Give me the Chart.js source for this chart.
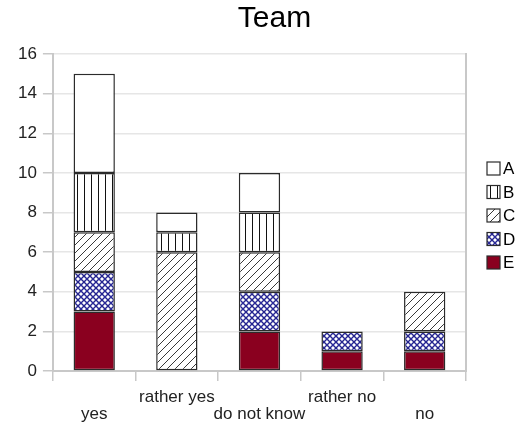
<!DOCTYPE html>
<html>
<head>
<meta charset="utf-8">
<script src="https://cdn.jsdelivr.net/npm/chart.js@4/dist/chart.umd.min.js"></script>
<style>
  html, body { margin: 0; padding: 0; background: #fff; }
  #wrap { width: 524px; height: 435px; }
</style>
</head>
<body>
<div id="wrap"><canvas id="c" width="524" height="435"></canvas></div>
<script>
// Answer categories along the x axis
const categories = ['yes', 'rather yes', 'do not know', 'rather no', 'no'];

// Counts per answer for each group (stacked bottom to top: E, D, C, B, A)
const seriesE = [3, 0, 2, 1, 1];
const seriesD = [2, 0, 2, 1, 1];
const seriesC = [2, 6, 2, 0, 2];
const seriesB = [3, 1, 2, 0, 0];
const seriesA = [5, 1, 2, 0, 0];

// Y axis tick values
const yTicks = [0, 2, 4, 6, 8, 10, 12, 14, 16];

const chartTitle = 'Team';

// Fill patterns
function makeTile(w, h, draw) {
  const t = document.createElement('canvas');
  t.width = w; t.height = h;
  const g = t.getContext('2d');
  g.fillStyle = '#fff';
  g.fillRect(0, 0, w, h);
  draw(g, w, h);
  return document.getElementById('c').getContext('2d').createPattern(t, 'repeat');
}

const patVertical = makeTile(7, 7, (g, w, h) => {
  g.fillStyle = '#111';
  g.fillRect(0, 0, 1, h);
});

const patDiagonal = makeTile(8, 8, (g, w, h) => {
  g.strokeStyle = '#222';
  g.lineWidth = 0.9;
  g.beginPath();
  g.moveTo(-1, h + 1); g.lineTo(w + 1, -1);
  g.moveTo(-1 - w, h + 1); g.lineTo(1, -1);
  g.moveTo(w - 1, h + 1); g.lineTo(2 * w + 1, -1);
  g.stroke();
});

const patCross = makeTile(6, 6, (g, w, h) => {
  g.strokeStyle = '#23238f';
  g.lineWidth = 1.4;
  g.beginPath();
  g.moveTo(0, 0); g.lineTo(w, h);
  g.moveTo(w, 0); g.lineTo(0, h);
  g.stroke();
  g.fillStyle = '#2a2a9a';
  g.fillRect(w / 2 - 1, h / 2 - 1, 2, 2);
});

const FONT = "'Liberation Sans', Arial, sans-serif";
const borderDark = '#2b2b2b';
const axisGray = '#c8c8c8';

function ds(label, data, bg) {
  return {
    label, data,
    backgroundColor: bg,
    borderColor: borderDark,
    borderWidth: 1.5,
    borderSkipped: false,
    categoryPercentage: 1.0,
    barPercentage: 0.5,
    stack: 's'
  };
}

// Title centred over the plot plus legend block
const headTitle = {
  id: 'headTitle',
  afterDraw(chart) {
    const ctx = chart.ctx;
    ctx.save();
    ctx.font = '30px ' + FONT;
    ctx.fillStyle = '#000';
    ctx.textAlign = 'center';
    ctx.textBaseline = 'middle';
    ctx.fillText(chartTitle, (chart.chartArea.left + chart.width) / 2 - 14, 19);
    ctx.restore();
  }
};

// Compact legend to the right of the plot: swatch with the label tight beside it
const sideLegend = {
  id: 'sideLegend',
  afterDraw(chart) {
    const ctx = chart.ctx;
    const items = chart.data.datasets.slice().reverse();
    const boxX = chart.chartArea.right + 21;
    const step = 23.5;
    const midY = (chart.chartArea.top + chart.chartArea.bottom) / 2 + 3;
    const firstY = midY - step * (items.length - 1) / 2;
    ctx.save();
    ctx.font = '17px ' + FONT;
    ctx.textBaseline = 'middle';
    ctx.textAlign = 'left';
    items.forEach((d, i) => {
      const cy = firstY + i * step;
      ctx.fillStyle = d.backgroundColor;
      ctx.fillRect(boxX, cy - 6.5, 13, 13);
      ctx.strokeStyle = borderDark;
      ctx.lineWidth = 1.2;
      ctx.strokeRect(boxX, cy - 6.5, 13, 13);
      ctx.fillStyle = '#000';
      ctx.fillText(d.label, boxX + 16, cy + 1);
    });
    ctx.restore();
  }
};

new Chart(document.getElementById('c'), {
  type: 'bar',
  data: {
    labels: categories,
    datasets: [
      ds('E', seriesE, '#8a001f'),
      ds('D', seriesD, patCross),
      ds('C', seriesC, patDiagonal),
      ds('B', seriesB, patVertical),
      ds('A', seriesA, '#ffffff')
    ]
  },
  plugins: [headTitle, sideLegend],
  options: {
    responsive: false,
    animation: false,
    layout: { padding: { left: 12, right: 57, top: 54, bottom: 4 } },
    plugins: {
      title: { display: false },
      legend: { display: false },
      tooltip: { enabled: false }
    },
    scales: {
      x: {
        stacked: true,
        offset: true,
        grid: {
          display: true,
          drawOnChartArea: false,
          offset: true,
          tickLength: 10,
          color: axisGray,
          lineWidth: 1.5
        },
        border: { display: true, color: axisGray, width: 2 },
        ticks: {
          color: '#222',
          font: { family: FONT, size: 17, lineHeight: 1.0 },
          padding: 8,
          maxRotation: 0,
          autoSkip: false,
          callback: function (v, i) {
            const name = categories[i];
            return i % 2 === 0 ? ['', name] : [name, ''];
          }
        }
      },
      y: {
        stacked: true,
        min: yTicks[0],
        max: yTicks[yTicks.length - 1],
        afterBuildTicks: (scale) => { scale.ticks = yTicks.map(v => ({ value: v })); },
        grid: {
          color: '#e6e6e6',
          tickColor: axisGray,
          tickLength: 10,
          lineWidth: 1.5
        },
        border: { display: true, color: axisGray, width: 2 },
        ticks: {
          color: '#222',
          font: { family: FONT, size: 17 },
          padding: 6
        }
      },
      y2: {
        position: 'right',
        min: 0,
        max: 16,
        afterFit: (scale) => { scale.width = 1; },
        grid: { drawOnChartArea: false, drawTicks: false },
        border: { display: true, color: axisGray, width: 2 },
        ticks: { display: false }
      }
    }
  }
});
</script>
</body>
</html>
